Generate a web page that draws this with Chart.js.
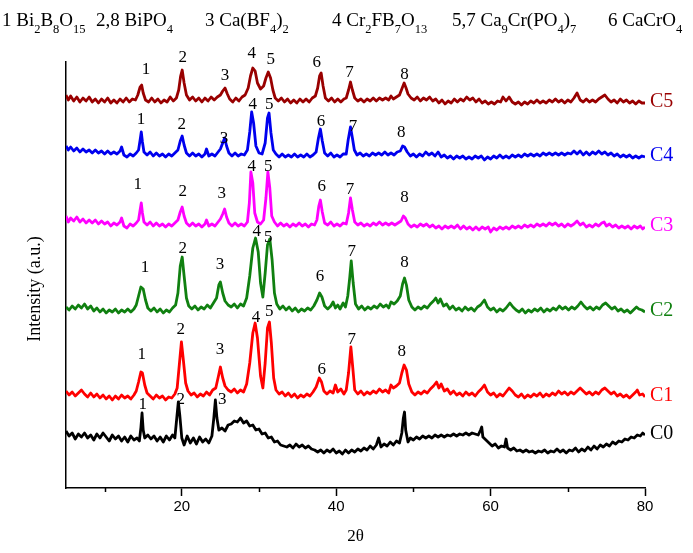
<!DOCTYPE html>
<html>
<head>
<meta charset="utf-8">
<script src="https://cdn.jsdelivr.net/npm/chart.js@4/dist/chart.umd.min.js"></script>
<style>
  html, body { margin: 0; padding: 0; background: #fff; }
  canvas { display: block; }
</style>
</head>
<body>
<canvas id="xrd" width="693" height="553"></canvas>
<script>
// ---- Data: [2theta, intensity (a.u., stacked offsets included)] ----
const c0Trace = [
  [5.0,57],[5.4,52],[5.8,55],[6.2,49],[6.6,54],[7.0,51],[7.4,55],[7.8,50],[8.2,53],[8.6,48],[9.0,54],[9.4,50],[9.8,55],[10.2,51],[10.6,47],
  [11.0,53],[11.4,49],[11.8,52],[12.2,47],[12.6,51],[13.0,46],[13.4,52],[13.8,48],[14.2,50],[14.5,47],[14.7,60],[14.85,75],[15.0,58],[15.2,50],
  [15.6,53],[16.0,49],[16.4,52],[16.8,47],[17.2,51],[17.6,46],[18.0,52],[18.4,48],[18.8,53],[19.1,50],[19.35,70],[19.55,86],[19.75,72],[20.0,50],
  [20.3,43],[20.7,52],[21.1,45],[21.5,50],[21.9,44],[22.3,51],[22.7,46],[23.1,49],[23.5,45],[23.9,52],[24.15,70],[24.35,88],[24.55,70],[24.8,58],
  [25.2,60],[25.6,57],[26.0,63],[26.4,64],[26.8,67],[27.2,66],[27.6,70],[28.0,65],[28.4,67],[28.8,62],[29.2,63],[29.6,58],[30.0,59],[30.4,54],
  [30.8,55],[31.2,50],[31.6,51],[32.0,46],[32.4,47],[32.8,43],[33.2,42],[33.6,41],[34.0,43],[34.4,40],[34.8,44],[35.2,41],[35.6,43],[36.0,40],
  [36.4,42],[36.8,39],[37.2,38],[37.6,36],[38.0,38],[38.4,35],[38.8,38],[39.2,36],[39.6,39],[40.0,35],[40.4,37],[40.8,34],[41.2,38],[41.6,35],
  [42.0,38],[42.4,36],[42.8,39],[43.2,37],[43.6,40],[44.0,38],[44.4,42],[44.8,39],[45.2,43],[45.5,50],[45.8,41],[46.2,44],[46.6,42],[47.0,46],
  [47.4,43],[47.8,47],[48.2,45],[48.5,55],[48.7,70],[48.85,76],[49.0,58],[49.3,46],[49.6,50],[50.0,48],[50.4,51],[50.8,49],[51.2,52],[51.6,50],
  [52.0,52],[52.4,50],[52.8,53],[53.2,51],[53.6,53],[54.0,51],[54.4,53],[54.8,52],[55.2,54],[55.6,52],[56.0,54],[56.4,53],[56.8,55],[57.2,53],
  [57.6,55],[58.0,54],[58.4,53],[58.7,58],[58.85,61],[59.0,51],[59.4,48],[59.8,45],[60.2,42],[60.6,44],[61.0,40],[61.4,42],[61.8,41],[62.0,49],
  [62.2,40],[62.6,38],[63.0,40],[63.4,37],[63.8,38],[64.2,36],[64.6,38],[65.0,36],[65.4,37],[65.8,35],[66.2,37],[66.6,36],[67.0,38],[67.4,35],
  [67.8,37],[68.2,36],[68.6,39],[69.0,36],[69.4,38],[69.8,35],[70.2,38],[70.6,37],[71.0,40],[71.4,36],[71.8,39],[72.2,37],[72.6,41],[73.0,38],
  [73.4,42],[73.8,39],[74.2,43],[74.6,41],[75.0,44],[75.4,42],[75.8,46],[76.2,44],[76.6,47],[77.0,46],[77.4,49],[77.8,48],[78.2,51],[78.6,50],
  [79.0,53],[79.4,52],[79.7,55],[80.0,53]
];
const c1Trace = [
  [5.0,97],[5.4,93],[5.8,96],[6.2,92],[6.6,95],[7.0,98],[7.4,94],[7.8,91],[8.2,95],[8.6,91],[9.0,94],[9.4,90],[9.8,93],[10.2,89],[10.6,92],
  [11.0,88],[11.4,92],[11.8,89],[12.2,93],[12.6,90],[13.0,92],[13.4,89],[13.8,93],[14.1,97],[14.4,106],[14.7,116],[14.9,115],[15.2,103],[15.5,95],
  [15.9,92],[16.3,89],[16.7,93],[17.1,90],[17.5,92],[17.9,88],[18.3,91],[18.7,90],[19.1,94],[19.4,100],[19.7,125],[19.95,146],[20.2,128],[20.5,105],
  [20.8,97],[21.2,93],[21.6,95],[22.0,91],[22.4,94],[22.8,92],[23.2,96],[23.6,93],[24.0,98],[24.4,100],[24.75,112],[25.0,121],[25.3,110],[25.6,102],
  [26.0,98],[26.4,96],[26.8,99],[27.2,95],[27.6,98],[28.0,96],[28.4,104],[28.8,125],[29.2,155],[29.5,165],[29.8,150],[30.2,112],[30.5,100],[30.8,125],
  [31.1,160],[31.35,166],[31.6,145],[31.9,110],[32.2,98],[32.6,94],[33.0,96],[33.4,92],[33.8,95],[34.2,91],[34.6,94],[35.0,90],[35.4,93],[35.8,91],
  [36.2,94],[36.6,92],[37.0,96],[37.4,101],[37.8,110],[38.1,106],[38.4,97],[38.8,94],[39.2,97],[39.6,95],[39.9,103],[40.2,96],[40.6,99],[41.0,94],
  [41.3,98],[41.6,115],[41.9,141],[42.15,120],[42.4,98],[42.8,94],[43.2,97],[43.6,93],[44.0,96],[44.4,94],[44.8,97],[45.2,95],[45.6,99],[46.0,96],
  [46.4,98],[46.8,95],[47.1,103],[47.4,100],[47.8,102],[48.2,105],[48.5,115],[48.8,123],[49.1,118],[49.4,104],[49.8,96],[50.2,93],[50.6,96],[51.0,94],
  [51.4,97],[51.8,95],[52.2,99],[52.6,102],[53.0,106],[53.3,100],[53.6,104],[54.0,97],[54.4,99],[54.8,94],[55.2,97],[55.6,93],[56.0,95],[56.4,92],
  [56.8,96],[57.2,93],[57.6,95],[58.0,92],[58.4,96],[58.8,99],[59.2,103],[59.6,96],[60.0,93],[60.4,95],[60.8,91],[61.2,94],[61.6,92],[62.0,96],
  [62.4,100],[62.8,97],[63.2,93],[63.6,91],[64.0,94],[64.4,90],[64.8,93],[65.2,91],[65.6,94],[66.0,92],[66.4,95],[66.8,91],[67.2,94],[67.6,92],
  [68.0,95],[68.4,93],[68.8,97],[69.2,94],[69.6,96],[70.0,93],[70.4,96],[70.8,94],[71.2,97],[71.6,100],[72.0,97],[72.4,94],[72.8,96],[73.2,93],
  [73.6,96],[74.0,94],[74.4,98],[74.8,100],[75.2,97],[75.6,94],[76.0,96],[76.4,92],[76.8,94],[77.2,91],[77.6,93],[78.0,90],[78.4,93],[78.8,96],
  [79.0,98],[79.3,93],[79.7,94],[80.0,91]
];
const c2Trace = [
  [5.0,181],[5.4,178],[5.8,182],[6.2,179],[6.6,183],[7.0,180],[7.4,184],[7.8,179],[8.2,182],[8.6,177],[9.0,180],[9.4,176],[9.8,179],[10.2,175],
  [10.6,178],[11.0,176],[11.4,179],[11.8,175],[12.2,178],[12.6,176],[13.0,179],[13.4,176],[13.8,179],[14.1,183],[14.4,192],[14.7,201],[15.0,199],
  [15.3,188],[15.6,180],[16.0,177],[16.4,180],[16.8,176],[17.2,179],[17.6,175],[18.0,178],[18.4,176],[18.8,180],[19.2,183],[19.5,195],[19.8,222],
  [20.05,231],[20.3,212],[20.6,190],[20.9,182],[21.3,179],[21.7,182],[22.1,178],[22.5,181],[22.9,179],[23.3,183],[23.7,180],[24.1,185],[24.5,190],
  [24.8,203],[25.0,206],[25.3,195],[25.6,187],[26.0,183],[26.4,181],[26.8,184],[27.2,180],[27.6,184],[28.0,182],[28.4,190],[28.8,212],[29.2,240],
  [29.55,250],[29.9,236],[30.2,205],[30.5,191],[30.8,215],[31.1,243],[31.4,249],[31.7,228],[32.0,195],[32.3,184],[32.7,179],[33.1,182],[33.5,178],
  [33.9,181],[34.3,177],[34.7,180],[35.1,176],[35.5,179],[35.9,177],[36.3,180],[36.7,178],[37.1,182],[37.5,188],[37.85,195],[38.15,191],[38.5,182],
  [38.9,179],[39.3,182],[39.6,186],[39.9,180],[40.2,183],[40.5,179],[40.9,185],[41.2,181],[41.5,192],[41.75,210],[41.95,227],[42.2,205],[42.5,184],
  [42.9,179],[43.3,182],[43.7,178],[44.1,181],[44.5,179],[44.9,182],[45.3,180],[45.7,184],[46.1,181],[46.5,183],[46.8,180],[47.1,186],[47.5,184],
  [47.9,187],[48.3,192],[48.6,204],[48.85,210],[49.1,203],[49.4,188],[49.8,181],[50.2,178],[50.6,181],[51.0,179],[51.4,182],[51.8,180],[52.2,184],
  [52.6,187],[52.9,190],[53.2,185],[53.5,189],[53.9,182],[54.3,184],[54.7,179],[55.1,182],[55.5,178],[55.9,180],[56.3,177],[56.7,181],[57.1,178],
  [57.5,180],[57.9,177],[58.3,181],[58.7,183],[59.2,188],[59.6,181],[60.0,178],[60.4,180],[60.8,176],[61.2,179],[61.6,177],[62.0,180],[62.5,185],
  [62.9,181],[63.3,178],[63.7,176],[64.1,179],[64.5,175],[64.9,178],[65.3,176],[65.7,179],[66.1,177],[66.5,180],[66.9,176],[67.3,179],[67.7,177],
  [68.1,180],[68.5,178],[68.9,182],[69.3,179],[69.7,181],[70.1,178],[70.5,181],[70.9,179],[71.3,182],[71.7,186],[72.1,182],[72.5,179],[72.9,181],
  [73.3,178],[73.7,181],[74.1,179],[74.5,183],[74.9,185],[75.3,182],[75.7,179],[76.1,181],[76.5,177],[76.9,179],[77.3,176],[77.7,178],[78.1,175],
  [78.5,178],[78.9,181],[79.2,179],[79.6,178],[80.0,176]
];
const c3Trace = [
  [5.0,272],[5.3,266],[5.6,270],[6.0,267],[6.4,271],[6.8,266],[7.2,269],[7.6,265],[8.0,268],[8.4,265],[8.8,268],[9.2,264],[9.6,267],[10.0,264],
  [10.4,266],[10.8,262],[11.2,265],[11.6,263],[12.0,266],[12.2,270],[12.5,262],[12.9,260],[13.3,264],[13.7,262],[14.1,265],[14.4,268],[14.6,278],
  [14.75,285],[14.9,275],[15.1,266],[15.5,263],[15.9,266],[16.3,262],[16.7,265],[17.1,262],[17.5,264],[17.9,261],[18.3,264],[18.7,262],[19.1,265],
  [19.5,268],[19.8,276],[20.05,281],[20.3,272],[20.6,265],[21.0,262],[21.4,265],[21.8,262],[22.2,264],[22.6,261],[23.0,264],[23.2,268],[23.5,262],
  [23.9,264],[24.3,262],[24.7,266],[25.0,269],[25.3,274],[25.55,279],[25.8,271],[26.1,265],[26.5,262],[26.9,265],[27.3,262],[27.7,264],[28.1,262],
  [28.5,266],[28.75,285],[28.95,316],[29.2,305],[29.45,275],[29.8,266],[30.2,264],[30.6,268],[30.9,290],[31.15,316],[31.4,300],[31.65,272],[32.0,266],
  [32.4,262],[32.8,265],[33.2,262],[33.6,264],[34.0,261],[34.4,264],[34.8,262],[35.2,265],[35.6,262],[36.0,264],[36.4,261],[36.8,264],[37.2,263],
  [37.5,268],[37.75,282],[37.95,288],[38.2,276],[38.5,265],[38.9,263],[39.3,266],[39.7,262],[40.1,264],[40.5,262],[40.9,265],[41.3,264],[41.6,275],
  [41.85,290],[42.1,278],[42.4,266],[42.8,263],[43.2,265],[43.6,262],[44.0,264],[44.4,262],[44.8,265],[45.2,263],[45.6,266],[46.0,263],[46.4,265],
  [46.8,263],[47.2,265],[47.6,263],[48.0,265],[48.4,267],[48.7,272],[48.95,270],[49.3,264],[49.7,261],[50.1,263],[50.5,261],[50.9,264],[51.3,262],
  [51.7,264],[52.1,261],[52.5,263],[52.9,260],[53.3,262],[53.7,259],[54.1,262],[54.5,260],[54.9,262],[55.3,260],[55.7,263],[56.1,259],[56.5,262],
  [56.9,259],[57.3,261],[57.7,258],[58.1,261],[58.5,258],[58.9,261],[59.3,259],[59.7,261],[60.0,256],[60.4,260],[60.8,258],[61.2,261],[61.6,259],
  [62.0,261],[62.4,259],[62.8,262],[63.2,260],[63.6,262],[64.0,260],[64.4,263],[64.8,261],[65.2,263],[65.6,261],[66.0,264],[66.4,262],[66.8,264],
  [67.2,262],[67.6,265],[68.0,263],[68.4,265],[68.8,262],[69.2,264],[69.6,261],[70.0,264],[70.4,262],[70.8,264],[71.2,267],[71.6,263],[72.0,265],
  [72.4,261],[72.8,263],[73.2,261],[73.6,264],[74.0,262],[74.4,265],[74.7,266],[75.0,262],[75.4,264],[75.8,261],[76.2,263],[76.6,260],[77.0,262],
  [77.4,260],[77.8,262],[78.2,259],[78.6,262],[79.0,260],[79.4,262],[79.7,259],[80.0,261]
];
const c4Trace = [
  [5.0,342],[5.3,338],[5.6,341],[6.0,337],[6.4,340],[6.8,336],[7.2,339],[7.6,336],[8.0,338],[8.4,335],[8.8,338],[9.2,335],[9.6,337],[10.0,334],
  [10.4,337],[10.8,334],[11.2,336],[11.6,334],[12.0,337],[12.2,341],[12.5,333],[12.9,331],[13.3,334],[13.7,332],[14.1,335],[14.4,338],[14.6,348],
  [14.75,356],[14.9,346],[15.1,336],[15.5,333],[15.9,336],[16.3,332],[16.7,335],[17.1,332],[17.5,334],[17.9,331],[18.3,334],[18.7,332],[19.1,335],
  [19.5,338],[19.8,347],[20.05,352],[20.3,343],[20.6,335],[21.0,332],[21.4,335],[21.8,332],[22.2,334],[22.6,331],[23.0,334],[23.2,339],[23.5,332],
  [23.9,334],[24.3,332],[24.7,336],[25.0,339],[25.3,345],[25.55,350],[25.8,342],[26.1,335],[26.5,332],[26.9,335],[27.3,332],[27.7,334],[28.1,333],
  [28.5,338],[28.8,356],[29.05,376],[29.3,365],[29.6,342],[30.0,335],[30.4,334],[30.8,345],[31.1,370],[31.3,375],[31.55,355],[31.85,338],[32.2,334],
  [32.6,331],[33.0,334],[33.4,331],[33.8,333],[34.2,331],[34.6,334],[35.0,331],[35.4,333],[35.8,331],[36.2,334],[36.6,331],[37.0,333],[37.4,336],
  [37.7,350],[37.95,359],[38.2,347],[38.5,335],[38.9,332],[39.3,335],[39.7,331],[40.1,333],[40.5,331],[40.9,334],[41.3,334],[41.55,348],[41.85,361],
  [42.1,350],[42.35,338],[42.7,333],[43.1,335],[43.5,332],[43.9,334],[44.3,332],[44.7,335],[45.1,333],[45.5,335],[45.9,333],[46.3,336],[46.7,333],
  [47.1,335],[47.5,333],[47.9,336],[48.3,337],[48.6,342],[48.85,341],[49.2,336],[49.6,332],[50.0,334],[50.4,331],[50.8,334],[51.2,332],[51.6,336],
  [52.0,333],[52.4,335],[52.8,332],[53.2,336],[53.6,331],[54.0,333],[54.4,330],[54.8,332],[55.2,329],[55.6,332],[56.0,330],[56.4,332],[56.8,329],
  [57.2,331],[57.6,329],[58.0,332],[58.4,330],[58.8,332],[59.2,328],[59.6,331],[60.0,329],[60.4,332],[60.8,330],[61.2,333],[61.6,330],[62.0,332],
  [62.4,330],[62.8,333],[63.2,331],[63.6,333],[64.0,331],[64.4,334],[64.8,332],[65.2,334],[65.6,332],[66.0,334],[66.4,332],[66.8,335],[67.2,333],
  [67.6,335],[68.0,333],[68.4,335],[68.8,333],[69.2,335],[69.6,333],[70.0,335],[70.4,334],[70.8,337],[71.2,334],[71.6,337],[72.0,333],[72.4,336],
  [72.8,333],[73.2,336],[73.6,334],[74.0,337],[74.4,334],[74.8,336],[75.2,333],[75.6,335],[76.0,332],[76.4,334],[76.8,331],[77.2,333],[77.6,331],
  [78.0,333],[78.4,330],[78.8,332],[79.2,330],[79.6,332],[80.0,331]
];
const c5Trace = [
  [5.0,393],[5.3,388],[5.6,392],[6.0,387],[6.4,391],[6.8,386],[7.2,390],[7.6,387],[8.0,391],[8.4,386],[8.8,389],[9.2,385],[9.6,389],[10.0,386],
  [10.4,390],[10.8,385],[11.2,388],[11.6,385],[12.0,389],[12.4,386],[12.8,390],[13.2,386],[13.6,389],[14.0,388],[14.3,393],[14.6,401],[14.8,403],
  [15.0,395],[15.3,388],[15.7,386],[16.1,390],[16.5,386],[16.9,389],[17.3,385],[17.7,388],[18.1,386],[18.5,391],[18.9,387],[19.3,390],[19.6,398],
  [19.85,412],[20.05,418],[20.3,405],[20.6,393],[21.0,388],[21.4,391],[21.8,387],[22.2,390],[22.6,386],[23.0,390],[23.4,387],[23.8,391],[24.2,388],
  [24.6,391],[25.0,393],[25.3,397],[25.6,400],[25.9,394],[26.2,389],[26.6,386],[27.0,390],[27.4,387],[27.8,391],[28.2,393],[28.6,400],[28.9,412],
  [29.2,420],[29.5,417],[29.8,405],[30.2,399],[30.6,402],[30.9,410],[31.2,416],[31.5,410],[31.8,398],[32.1,390],[32.5,387],[32.9,390],[33.3,386],
  [33.7,389],[34.1,385],[34.5,388],[34.9,385],[35.3,389],[35.7,386],[36.1,389],[36.5,386],[36.9,390],[37.3,392],[37.6,400],[37.85,412],[38.05,415],
  [38.3,402],[38.6,390],[39.0,387],[39.4,390],[39.8,386],[40.2,389],[40.6,386],[41.0,389],[41.3,390],[41.6,398],[41.85,406],[42.1,398],[42.4,390],
  [42.8,387],[43.2,389],[43.6,386],[44.0,389],[44.4,387],[44.8,390],[45.2,387],[45.6,390],[46.0,388],[46.4,390],[46.8,388],[47.1,392],[47.4,389],
  [47.8,391],[48.2,393],[48.5,399],[48.8,405],[49.05,400],[49.3,394],[49.7,390],[50.1,388],[50.5,391],[50.9,387],[51.3,390],[51.7,388],[52.1,391],
  [52.5,387],[52.9,389],[53.3,385],[53.7,388],[54.1,384],[54.5,387],[54.9,385],[55.3,389],[55.7,386],[56.1,389],[56.5,387],[56.9,391],[57.3,388],
  [57.7,390],[58.1,386],[58.5,389],[58.9,385],[59.3,387],[59.7,384],[60.1,386],[60.5,384],[60.9,387],[61.3,386],[61.6,391],[62.0,387],[62.4,391],
  [62.8,386],[63.2,384],[63.6,386],[64.0,383],[64.4,386],[64.8,384],[65.2,387],[65.6,385],[66.0,388],[66.4,385],[66.8,387],[67.2,385],[67.6,388],
  [68.0,386],[68.4,389],[68.8,386],[69.2,388],[69.6,385],[70.0,388],[70.4,386],[70.8,390],[71.2,395],[71.6,388],[72.0,386],[72.4,389],[72.8,386],
  [73.2,388],[73.6,386],[74.0,389],[74.4,391],[74.8,393],[75.2,389],[75.6,386],[76.0,388],[76.4,385],[76.8,389],[77.2,386],[77.6,388],[78.0,385],
  [78.4,387],[78.8,384],[79.2,387],[79.6,385],[80.0,385]
];

// peak index labels: [2theta, intensity, text]
const c0Peaks = [[14.94,83,'1'],[19.86,88,'2'],[25.25,88,'3']];
const c1Peaks = [[14.81,133,'1'],[19.86,158,'2'],[24.96,138,'3'],[29.62,170,'4'],[31.34,176,'5'],[38.13,118,'6'],[42.02,148,'7'],[48.5,136,'8']];
const c2Peaks = [[15.24,220,'1'],[20.12,239,'2'],[24.96,223,'3'],[29.71,256,'4'],[31.21,250,'5'],[37.91,211,'6'],[42.02,236,'7'],[48.84,225,'8']];
const c3Peaks = [[14.29,303,'1'],[20.12,296,'2'],[25.18,294,'3'],[29.06,321,'4'],[31.21,321,'5'],[38.13,301,'6'],[41.8,298,'7'],[48.84,290,'8']];
const c4Peaks = [[14.72,368,'1'],[19.99,363,'2'],[25.47,349,'3'],[29.19,383,'4'],[31.34,383,'5'],[38.04,366,'6'],[42.19,361,'7'],[48.41,355,'8']];
const c5Peaks = [[15.37,418,'1'],[20.12,430,'2'],[25.6,412,'3'],[29.06,434,'4'],[31.53,428,'5'],[37.49,425,'6'],[41.71,415,'7'],[48.84,413,'8']];

const seriesNames  = ['C0', 'C1', 'C2', 'C3', 'C4', 'C5'];
const seriesColors = ['#000000', '#ff0000', '#108010', '#ff00ff', '#0000ee', '#990000'];
const traces = [c0Trace, c1Trace, c2Trace, c3Trace, c4Trace, c5Trace];
const peaks  = [c0Peaks, c1Peaks, c2Peaks, c3Peaks, c4Peaks, c5Peaks];

const xMajorTicks = [20, 40, 60, 80];
const xMinorTicks = [10, 30, 50, 70];

const phaseKey = ['1 Bi_2B_8O_15', '2,8 BiPO_4', '3 Ca(BF_4)_2', '4 Cr_2FB_7O_13', '5,7 Ca_9Cr(PO_4)_7', '6 CaCrO_4'];

// ---- layout (px) ----
const KEY_X = [2, 96, 205, 332, 452, 608];
const KEY_BASE = 26;
const SERIF = '"Liberation Serif", "Times New Roman", serif';

function drawFormula(ctx, text, x, y) {
  text.split(/(_\d+)/).forEach(part => {
    if (!part) return;
    const sub = part[0] === '_';
    const t = sub ? part.slice(1) : part;
    ctx.font = (sub ? '12.5px ' : '19px ') + SERIF;
    ctx.fillText(t, x, sub ? y + 7 : y);
    x += ctx.measureText(t).width;
  });
}

const annotate = {
  id: 'annotate',
  afterDraw(chart) {
    const { ctx, chartArea, scales: { x, y } } = chart;
    ctx.save();

    // minor ticks (shorter than the major ones)
    ctx.strokeStyle = '#000';
    ctx.lineWidth = 1.5;
    xMinorTicks.forEach(v => {
      const px = Math.round(x.getPixelForValue(v)) + 0.5;
      ctx.beginPath();
      ctx.moveTo(px, chartArea.bottom);
      ctx.lineTo(px, chartArea.bottom + 4);
      ctx.stroke();
    });

    // peak numbers
    ctx.fillStyle = '#000';
    ctx.textAlign = 'center';
    ctx.textBaseline = 'middle';
    ctx.font = '17px ' + SERIF;
    peaks.forEach(list => list.forEach(([tx, ty, label]) => {
      ctx.fillText(label, x.getPixelForValue(tx), y.getPixelForValue(ty));
    }));

    // series names at the right end of each trace
    ctx.textAlign = 'left';
    ctx.font = '20px ' + SERIF;
    traces.forEach((tr, i) => {
      const last = tr[tr.length - 1];
      ctx.fillStyle = seriesColors[i];
      ctx.fillText(seriesNames[i], x.getPixelForValue(last[0]) + 5, y.getPixelForValue(last[1]) - 1);
    });

    // y title
    ctx.fillStyle = '#000';
    ctx.font = '18px ' + SERIF;
    ctx.textAlign = 'center';
    ctx.translate(35, (chartArea.top + chartArea.bottom) / 2 + 14);
    ctx.rotate(-Math.PI / 2);
    ctx.fillText('Intensity (a.u.)', 0, 0);
    ctx.setTransform(1, 0, 0, 1, 0, 0);

    // phase key on top
    ctx.textAlign = 'left';
    ctx.textBaseline = 'alphabetic';
    phaseKey.forEach((t, i) => drawFormula(ctx, t, KEY_X[i], KEY_BASE));

    ctx.restore();
  }
};

new Chart(document.getElementById('xrd').getContext('2d'), {
  type: 'line',
  data: {
    datasets: traces.map((tr, i) => ({
      label: seriesNames[i],
      data: tr.map(([a, b]) => ({ x: a, y: b })),
      borderColor: seriesColors[i],
      borderWidth: 2.8,
      borderJoinStyle: 'round',
      pointRadius: 0,
      tension: 0,
      fill: false
    }))
  },
  options: {
    responsive: false,
    animation: false,
    events: [],
    layout: { padding: { top: 62, right: 48, bottom: 0, left: 0 } },
    plugins: { legend: { display: false }, tooltip: { enabled: false } },
    scales: {
      x: {
        type: 'linear',
        min: 5,
        max: 80,
        afterBuildTicks: s => {
          s.ticks = [...xMinorTicks, ...xMajorTicks].sort((a, b) => a - b).map(v => ({ value: v }));
        },
        afterFit: s => { s.height = 65; },
        ticks: {
          autoSkip: false,
          maxRotation: 0,
          padding: 2,
          color: '#000',
          font: { family: '"Liberation Sans", Arial, sans-serif', size: 15 },
          callback: v => (xMajorTicks.includes(v) ? String(v) : '')
        },
        grid: {
          drawOnChartArea: false,
          tickLength: 8,
          tickWidth: 1.5,
          tickColor: c => (c.tick && xMajorTicks.includes(c.tick.value) ? '#000' : 'rgba(0,0,0,0)')
        },
        border: { color: '#000', width: 1.5 },
        title: {
          display: true,
          text: '2θ',
          color: '#000',
          font: { family: SERIF, size: 17 },
          padding: { top: 0, bottom: 6 }
        }
      },
      y: {
        min: 0,
        max: 426,
        afterFit: s => { s.width = 66; },
        ticks: { display: false },
        grid: { display: false },
        border: { color: '#000', width: 1.5 }
      }
    }
  },
  plugins: [annotate]
});
</script>
</body>
</html>
